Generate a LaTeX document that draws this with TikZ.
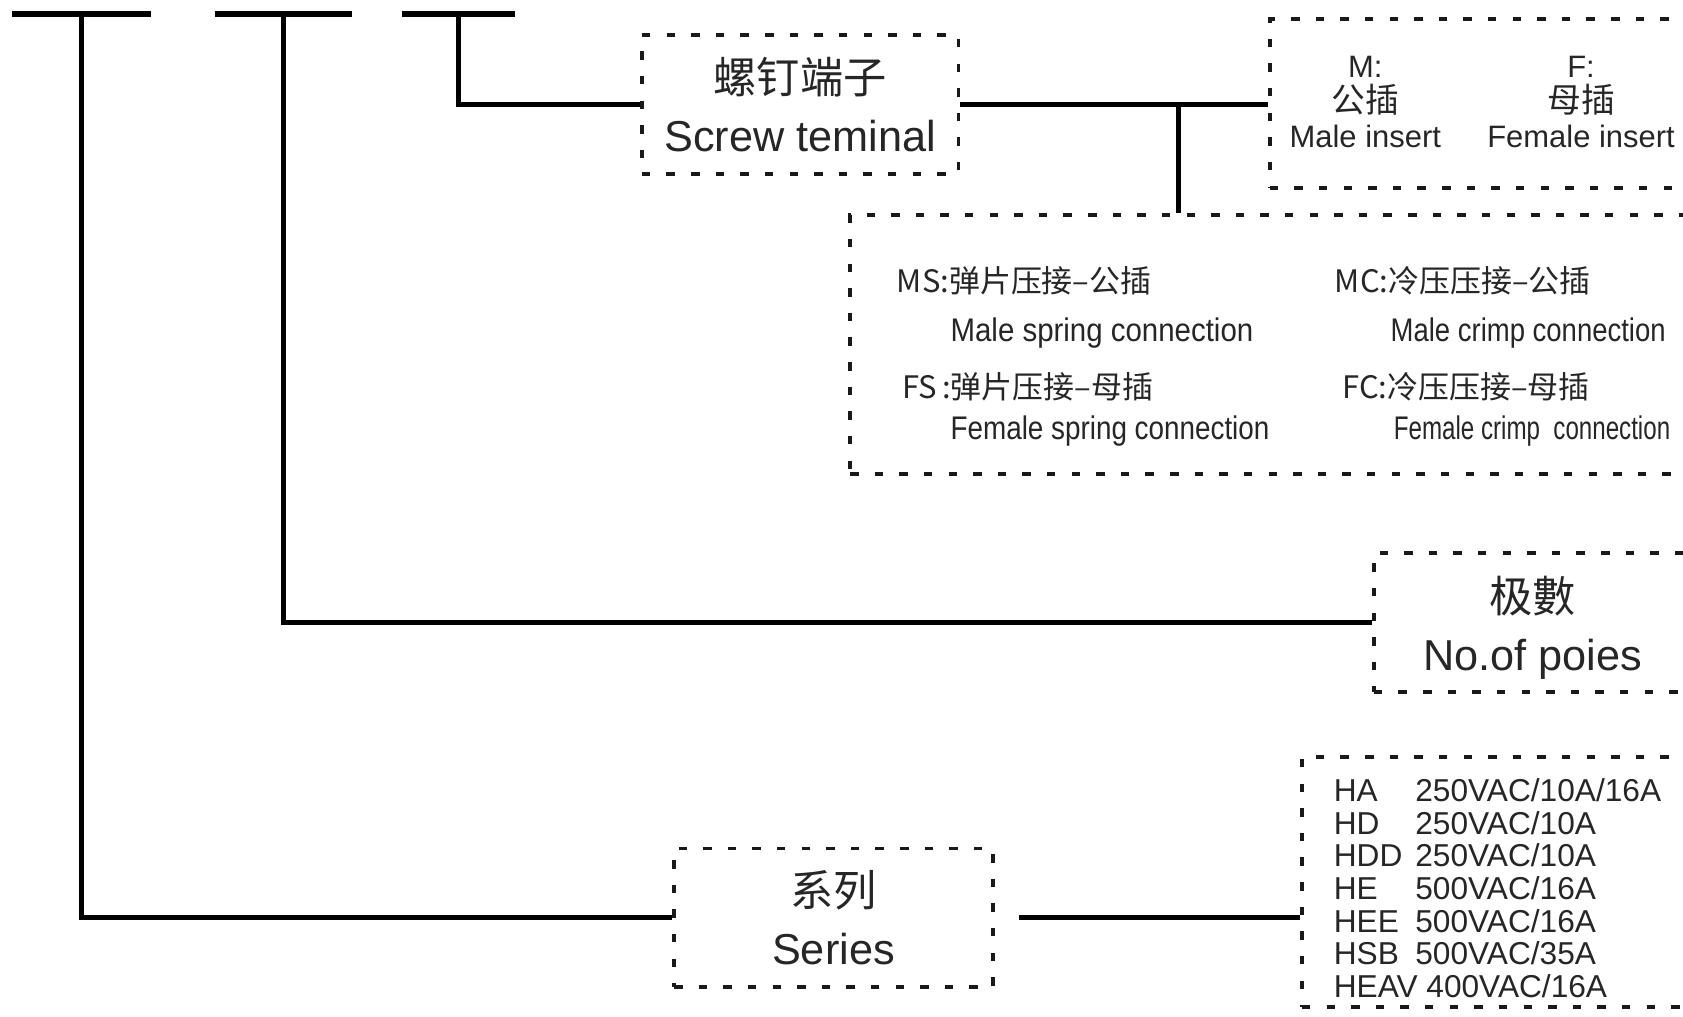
\documentclass[tikz,border=0pt]{standalone}
\usepackage{fontspec}
\usepackage{graphicx}
\setmainfont{Liberation Sans}
\newfontfamily\cjk{Noto Sans CJK SC}
\newfontfamily\narrow[FakeStretch=0.9]{Liberation Sans}
\usetikzlibrary{positioning, calc}
\newdimen\pix
\pix=0.010733cm
\tikzset{
    codeslot/.style={
        fill=black, inner sep=0pt, outer sep=0pt,
        minimum height=6\pix,
    },
    link/.style={line width=1.55pt},
    dotbox/.style={
        draw=black!90, line width=1.1pt,
        dash pattern=on 2.4pt off 4.6pt,
        inner sep=0pt,
    },
    biglabel/.style={
        font=\fontsize{12.3}{16.3}\selectfont,
        text=black!85, align=center, inner sep=0pt,
    },
    smalllabel/.style={
        font=\fontsize{8.8}{10}\selectfont,
        text=black!85, align=center, inner sep=0pt,
    },
    cjkline/.style={
        font=\cjk\fontsize{8.8}{10}\selectfont,
        text=black!85, anchor=west, inner sep=0pt,
    },
    engline/.style={
        font=\narrow\fontsize{9.3}{10}\selectfont,
        text=black!85, anchor=west, inner sep=0pt,
    },
    ratinglabel/.style={
        font=\fontsize{9}{9.2}\selectfont,
        text=black!85, anchor=west, inner sep=0pt,
    },
}

\begin{document}
\begin{tikzpicture}[x=0.010733cm, y=-0.010733cm]

\useasboundingbox (0,0) rectangle (1568,947);
\fill[white] (0,0) rectangle (1568,947);
\clip (0,0) rectangle (1568,947);

% =============================================
% Code slots of the part number
% =============================================
\node[codeslot, minimum width=130\pix] (code1) at (76,13) {};
\node[codeslot, minimum width=128\pix] (code2) at (264,13) {};
\node[codeslot, minimum width=105\pix] (code3) at (427,13) {};

% =============================================
% Boxes
% =============================================
\node[dotbox, biglabel, minimum width=295\pix, minimum height=129\pix] (screw) at (745.5,97.5)
    {{\cjk 螺钉端子}\\Screw teminal};

\node[dotbox, minimum width=417\pix, minimum height=157\pix] (insert) at (1391.5,96.5) {};
\node[smalllabel] (male) at (1272,95) {M:\\{\cjk\fontsize{9.6}{10}\selectfont 公插}\\Male insert};
\node[smalllabel] (female) at (1473,95) {F:\\{\cjk\fontsize{9.6}{10}\selectfont 母插}\\Female insert};

\node[dotbox, minimum width=808\pix, minimum height=242\pix] (contact) at (1196,321) {};
\node[cjkline] (ms) at (835,262) {MS:弹片压接–公插};
\node[engline] (msen) at (885,310) {Male spring connection};
\node[cjkline] (fs) at (840,360) {FS\,:弹片压接–母插};
\node[engline] (fsen) at (885,402) {\scalebox{0.946}[1]{Female spring connection}};
\node[cjkline] (mc) at (1243,262) {MC:冷压压接–公插};
\node[engline] (mcen) at (1295,310) {\scalebox{0.934}[1]{Male crimp connection}};
\node[cjkline] (fc) at (1250,360) {FC:冷压压接–母插};
\node[engline] (fcen) at (1298,402) {\scalebox{0.82}[1]{Female crimp~ connection}};

\node[dotbox, minimum width=320\pix, minimum height=130\pix] (poles) at (1440,580) {};
\node[biglabel] (poleslabel) at (1428,585) {{\cjk 极數}\\No.of poies};

\node[dotbox, biglabel, minimum width=297\pix, minimum height=129\pix] (series) at (776.5,855)
    {{\cjk 系列}\\Series};

\node[dotbox, minimum width=387\pix, minimum height=233\pix] (rating) at (1406.5,821.5) {};
\node[ratinglabel] (ratings) at (1242,832) {%
    \begin{tabular}{@{}p{23.2pt}@{}l@{}}
    HA   & 250VAC/10A/16A\\
    HD   & 250VAC/10A\\
    HDD  & 250VAC/10A\\
    HE   & 500VAC/16A\\
    HEE  & 500VAC/16A\\
    HSB  & 500VAC/35A\\
    \multicolumn{2}{@{}l@{}}{HEAV 400VAC/16A}
    \end{tabular}};

% =============================================
% Connectors
% =============================================
\draw[link] (code3.center) |- (screw.west);
\draw[link] (code2.center) |- (poles.west);
\draw[link] (code1.center) |- (series.west);

\draw[link] (screw.east) -- coordinate[pos=0.71] (tap) (screw.east -| insert.west);
\draw[link] (tap) -- (tap |- contact.north);

\draw[link, shorten <=23\pix] (series.east) -- (series.east -| rating.west);

\end{tikzpicture}
\end{document}
